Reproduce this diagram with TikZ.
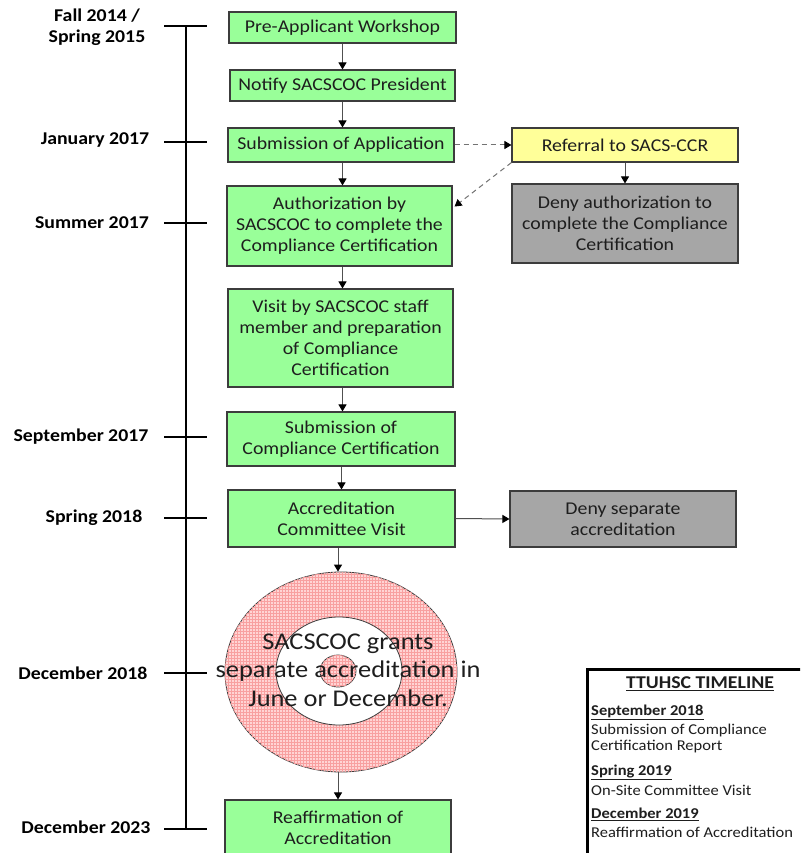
\documentclass[tikz,border=0pt]{standalone}
\usepackage{fontspec}
\setmainfont{Carlito}[FakeStretch=1.1]
\usetikzlibrary{arrows.meta,shapes.geometric,patterns,calc}
\definecolor{boxgreen}{RGB}{153,255,153}
\definecolor{boxyellow}{RGB}{255,255,153}
\definecolor{boxgray}{RGB}{166,166,166}
\definecolor{edgec}{RGB}{60,60,60}
\definecolor{connc}{RGB}{80,80,80}
\definecolor{pinkbg}{RGB}{255,212,212}
\definecolor{pinkgrid}{RGB}{248,160,160}
\definecolor{txt}{RGB}{30,30,30}
\begin{document}
\begin{tikzpicture}[x=1pt,y=-1pt,
  basebox/.style={draw=edgec,line width=1.1pt,inner sep=0pt,align=center,
    font=\fontsize{18}{21}\selectfont,text=txt},
  gbox/.style={basebox,fill=boxgreen},
  ybox/.style={basebox,fill=boxyellow},
  graybox/.style={basebox,fill=boxgray},
  conn/.style={draw=connc,line width=1pt,-{Triangle[width=8pt,length=7pt,color=black]}},
  dconn/.style={draw=gray!90!black,line width=1pt,dash pattern=on 5pt off 4pt,-{Triangle[width=8pt,length=7pt,color=black]}},
  tline/.style={draw=black,line width=1.3pt},
  tl/.style={font=\bfseries\fontsize{18}{21}\selectfont,align=center,text=black},
  lg/.style={font=\fontsize{15}{17}\selectfont,text=txt,inner sep=0pt},
  pinkfill/.style={draw=edgec,line width=0.8pt,fill=pinkbg,postaction={pattern=grid,pattern color=pinkgrid}}
]
\useasboundingbox (0,0) rectangle (800,853);
\fill[white] (0,0) rectangle (800,853);
\clip (0,0) rectangle (800,853);

% timeline
\coordinate (ttop) at (186,26);
\coordinate (tbot) at (186,829);
\draw[tline] (ttop) -- (tbot);
\foreach \yy in {26,142,223,437,518,673,829}{
  \draw[tline] (164,\yy) -- (207,\yy);
}
\node[tl] (l1) at (97,27) {Fall 2014 /\\Spring 2015};
\node[tl] (l2) at (95,140) {January 2017};
\node[tl] (l3) at (92,223) {Summer 2017};
\node[tl] (l4) at (81,437) {September 2017};
\node[tl] (l5) at (94,518) {Spring 2018};
\node[tl] (l6) at (83,673) {December 2018};
\node[tl] (l7) at (86,827) {December 2023};

% boxes
\node[gbox,minimum width=227,minimum height=31] (pre) at (342.5,27.5) {Pre-Applicant Workshop};
\node[gbox,minimum width=225,minimum height=31] (notify) at (342.5,85.5) {Notify SACSCOC President};
\node[gbox,minimum width=226,minimum height=34] (subapp) at (341,145) {Submission of Application};
\node[gbox,minimum width=225,minimum height=80] (auth) at (339.5,226) {Authorization by\\SACSCOC to complete the\\Compliance Certification};
\node[gbox,minimum width=225,minimum height=98] (visit) at (340.5,338) {Visit by SACSCOC staff\\member and preparation\\of Compliance\\Certification};
\node[gbox,minimum width=228,minimum height=54] (subcc) at (341,439) {Submission of\\Compliance Certification};
\node[gbox,minimum width=227,minimum height=57] (acv) at (341.5,518.5) {Accreditation\\Committee Visit};
\node[gbox,minimum width=226,minimum height=56] (reaff) at (338,828) {Reaffirmation of\\Accreditation};
\node[ybox,minimum width=226,minimum height=34] (ref) at (625,145) {Referral to SACS-CCR};
\node[graybox,minimum width=226,minimum height=79] (denyauth) at (625,223.5) {Deny authorization to\\complete the Compliance\\Certification};
\node[graybox,minimum width=226,minimum height=56] (denysep) at (623,519) {Deny separate\\accreditation};

% target
\node[ellipse,pinkfill,minimum width=232,minimum height=200,inner sep=0pt] (grant) at (341,672) {};
\node[ellipse,draw=edgec,line width=0.8pt,fill=white,minimum width=126,minimum height=108,inner sep=0pt] (ring) at (339,671) {};
\node[ellipse,pinkfill,minimum width=36,minimum height=32,inner sep=0pt] (bull) at (338,671) {};
\node[align=center,font=\fontsize{24}{28.5}\selectfont,text=txt,inner sep=0pt] (granttext) at (348,670) {SACSCOC grants\\separate accreditation in\\June or December.};

% connectors
\draw[conn] (pre.south) -- (pre.south |- notify.north);
\draw[conn] (notify.south -| pre.south) -- (pre.south |- subapp.north);
\draw[conn] (subapp.south -| pre.south) -- (pre.south |- auth.north);
\draw[conn] (auth.south -| pre.south) -- (pre.south |- visit.north);
\draw[conn] (visit.south -| pre.south) -- (pre.south |- subcc.north);
\draw[conn] (subcc.south -| acv.north) -- (acv.north);
\draw[conn] (reaff.north |- acv.south) -- (reaff.north |- grant.north);
\draw[conn] (reaff.north |- grant.south) -- (reaff.north);
\draw[dconn] (subapp.east) -- (ref.west);
\draw[dconn] (ref.south west) -- ($(auth.north east)!0.26!(auth.south east)+(2,0)$);
\draw[conn] (ref.south) -- (denyauth.north);
\draw[conn] (acv.east) -- (denysep.west);

% legend
\node[draw=black,line width=2.5pt,minimum width=240,minimum height=210,anchor=north west,inner sep=0pt] (legend) at (586,668) {};
\node[font=\bfseries\fontsize{18}{21}\selectfont,text=txt,inner sep=0pt] (lt) at (700,684) {\underline{TTUHSC TIMELINE}};
\node[lg,anchor=west] (la1) at (591,712) {\textbf{\underline{September 2018}}};
\node[lg,anchor=west] (la2) at (591,730) {Submission of Compliance};
\node[lg,anchor=west] (la3) at (591,747) {Certification Report};
\node[lg,anchor=west] (lb1) at (591,772) {\textbf{\underline{Spring 2019}}};
\node[lg,anchor=west] (lb2) at (591,790) {On-Site Committee Visit};
\node[lg,anchor=west] (lc1) at (591,814) {\textbf{\underline{December 2019}}};
\node[lg,anchor=west] (lc2) at (591,832) {Reaffirmation of Accreditation};
\end{tikzpicture}
\end{document}
